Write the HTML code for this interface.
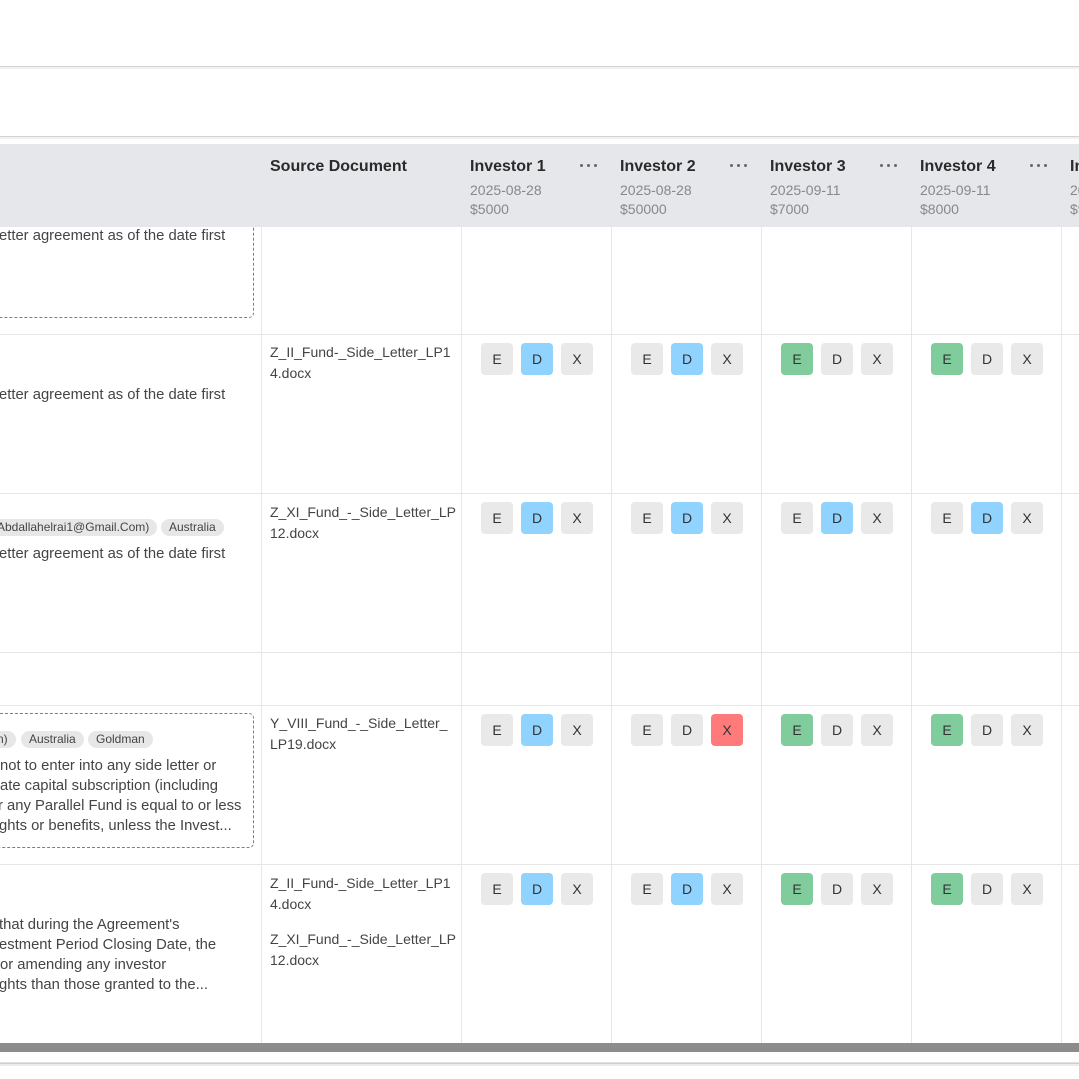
<!DOCTYPE html>
<html><head><meta charset="utf-8">
<style>
html,body{margin:0;padding:0;}
body{width:1079px;height:1079px;overflow:hidden;position:relative;background:#fff;font-family:"Liberation Sans",Arial,sans-serif;color:#444;}
.a{position:absolute;}
.hl{position:absolute;left:0;width:1079px;height:1px;background:#e6e6e6;}
.vl{position:absolute;width:1px;background:#e6e6e6;}
.t{position:absolute;white-space:nowrap;font-size:14.8px;line-height:20px;color:#444;}
.src{position:absolute;white-space:nowrap;font-size:14px;line-height:20.5px;color:#444;left:270px;}
.hd{position:absolute;white-space:nowrap;font-size:16px;font-weight:bold;color:#2a2a2a;line-height:20px;top:157px;z-index:3;}
.sub{position:absolute;white-space:nowrap;font-size:14px;color:#888;line-height:20px;z-index:3;}
.dots{position:absolute;top:164px;width:17px;height:3px;z-index:3;}
.dots i{position:absolute;top:0;width:3px;height:3px;border-radius:50%;background:#666;}
.b{position:absolute;width:32px;height:32px;border-radius:4px;background:#e9e9e9;font-size:14px;line-height:32px;text-align:center;color:#333;}
.bl{background:#8fd3fe;}
.gr{background:#80cc9c;}
.rd{background:#ff7b7b;}
.tag{position:absolute;height:17px;border-radius:9px;background:#e7e7e7;font-size:12px;line-height:17px;color:#444;padding:0 8px;white-space:nowrap;}
.box{position:absolute;border:1px dashed #8e6fa3;border-radius:5px;}
</style></head><body>

<!-- top frame lines -->
<div class="a" style="left:0;top:66px;width:1079px;height:1px;background:#d4d4d4;"></div>
<div class="a" style="left:0;top:67px;width:1079px;height:2px;background:#f1f1f1;"></div>
<div class="a" style="left:0;top:136px;width:1079px;height:1px;background:#d4d4d4;"></div>
<div class="a" style="left:0;top:137px;width:1079px;height:2px;background:#f1f1f1;z-index:3;"></div>
<div class="a" style="left:0;top:139px;width:1079px;height:5px;background:#fff;z-index:2;"></div>

<!-- header -->
<div class="a" style="left:0;top:144px;width:1079px;height:83px;background:#e6e7eb;z-index:2;"></div>
<div class="hd" style="left:270px;">Source Document</div>

<div class="hd" style="left:470px;">Investor 1</div>
<div class="dots" style="left:580px;"><i style="left:0"></i><i style="left:7px"></i><i style="left:14px"></i></div>
<div class="sub" style="left:470px;top:180px;">2025-08-28</div>
<div class="sub" style="left:470px;top:199px;">$5000</div>

<div class="hd" style="left:620px;">Investor 2</div>
<div class="dots" style="left:730px;"><i style="left:0"></i><i style="left:7px"></i><i style="left:14px"></i></div>
<div class="sub" style="left:620px;top:180px;">2025-08-28</div>
<div class="sub" style="left:620px;top:199px;">$50000</div>

<div class="hd" style="left:770px;">Investor 3</div>
<div class="dots" style="left:880px;"><i style="left:0"></i><i style="left:7px"></i><i style="left:14px"></i></div>
<div class="sub" style="left:770px;top:180px;">2025-09-11</div>
<div class="sub" style="left:770px;top:199px;">$7000</div>

<div class="hd" style="left:920px;">Investor 4</div>
<div class="dots" style="left:1030px;"><i style="left:0"></i><i style="left:7px"></i><i style="left:14px"></i></div>
<div class="sub" style="left:920px;top:180px;">2025-09-11</div>
<div class="sub" style="left:920px;top:199px;">$8000</div>

<div class="hd" style="left:1070px;">Investor 5</div>
<div class="sub" style="left:1070px;top:180px;">2025-09-11</div>
<div class="sub" style="left:1070px;top:199px;">$9000</div>

<!-- vertical lines -->
<div class="vl" style="left:261px;top:227px;height:816px;"></div>
<div class="vl" style="left:461px;top:227px;height:816px;"></div>
<div class="vl" style="left:611px;top:227px;height:816px;"></div>
<div class="vl" style="left:761px;top:227px;height:816px;"></div>
<div class="vl" style="left:911px;top:227px;height:816px;"></div>
<div class="vl" style="left:1061px;top:227px;height:816px;"></div>

<!-- horizontal row lines -->
<div class="hl" style="top:334px;"></div>
<div class="hl" style="top:493px;"></div>
<div class="hl" style="top:652px;"></div>
<div class="hl" style="top:705px;"></div>
<div class="hl" style="top:864px;"></div>

<!-- row 1 -->
<div class="box" style="left:-10px;top:170px;width:262px;height:146px;z-index:1;"></div>
<div class="t" style="left:-1px;top:226px;">etter agreement as of the date first</div>

<!-- row 2 -->
<div class="t" style="left:-1px;top:385px;">etter agreement as of the date first</div>
<div class="src" style="top:342px;">Z_II_Fund-_Side_Letter_LP1<br>4.docx</div>

<!-- row 3 -->
<div class="tag" style="left:-11px;top:519px;">Abdallahelrai1@Gmail.Com)</div>
<div class="tag" style="left:161px;top:519px;">Australia</div>
<div class="t" style="left:-1px;top:544px;">etter agreement as of the date first</div>
<div class="src" style="top:502px;">Z_XI_Fund_-_Side_Letter_LP<br>12.docx</div>

<!-- row 5 -->
<div class="box" style="left:-10px;top:713px;width:262px;height:133px;"></div>
<div class="tag" style="left:-11px;top:731px;">n)</div>
<div class="tag" style="left:21px;top:731px;">Australia</div>
<div class="tag" style="left:88px;top:731px;">Goldman</div>
<div class="t" style="left:0;top:756px;">not to enter into any side letter or</div>
<div class="t" style="left:0;top:776px;">ate capital subscription (including</div>
<div class="t" style="left:-2px;top:796px;">r any Parallel Fund is equal to or less</div>
<div class="t" style="left:-1px;top:816px;">ghts or benefits, unless the Invest...</div>
<div class="src" style="top:713px;">Y_VIII_Fund_-_Side_Letter_<br>LP19.docx</div>

<!-- row 6 -->
<div class="t" style="left:-1px;top:915px;">that during the Agreement's</div>
<div class="t" style="left:-1px;top:935px;">estment Period Closing Date, the</div>
<div class="t" style="left:0;top:955px;">or amending any investor</div>
<div class="t" style="left:-1px;top:975px;">ghts than those granted to the...</div>
<div class="src" style="top:873px;">Z_II_Fund-_Side_Letter_LP1<br>4.docx</div>
<div class="src" style="top:929px;">Z_XI_Fund_-_Side_Letter_LP<br>12.docx</div>

<!-- buttons row 2 (top 343) -->
<div class="b" style="left:481px;top:343px;">E</div><div class="b bl" style="left:521px;top:343px;">D</div><div class="b" style="left:561px;top:343px;">X</div>
<div class="b" style="left:631px;top:343px;">E</div><div class="b bl" style="left:671px;top:343px;">D</div><div class="b" style="left:711px;top:343px;">X</div>
<div class="b gr" style="left:781px;top:343px;">E</div><div class="b" style="left:821px;top:343px;">D</div><div class="b" style="left:861px;top:343px;">X</div>
<div class="b gr" style="left:931px;top:343px;">E</div><div class="b" style="left:971px;top:343px;">D</div><div class="b" style="left:1011px;top:343px;">X</div>

<!-- buttons row 3 (top 502) -->
<div class="b" style="left:481px;top:502px;">E</div><div class="b bl" style="left:521px;top:502px;">D</div><div class="b" style="left:561px;top:502px;">X</div>
<div class="b" style="left:631px;top:502px;">E</div><div class="b bl" style="left:671px;top:502px;">D</div><div class="b" style="left:711px;top:502px;">X</div>
<div class="b" style="left:781px;top:502px;">E</div><div class="b bl" style="left:821px;top:502px;">D</div><div class="b" style="left:861px;top:502px;">X</div>
<div class="b" style="left:931px;top:502px;">E</div><div class="b bl" style="left:971px;top:502px;">D</div><div class="b" style="left:1011px;top:502px;">X</div>

<!-- buttons row 5 (top 714) -->
<div class="b" style="left:481px;top:714px;">E</div><div class="b bl" style="left:521px;top:714px;">D</div><div class="b" style="left:561px;top:714px;">X</div>
<div class="b" style="left:631px;top:714px;">E</div><div class="b" style="left:671px;top:714px;">D</div><div class="b rd" style="left:711px;top:714px;">X</div>
<div class="b gr" style="left:781px;top:714px;">E</div><div class="b" style="left:821px;top:714px;">D</div><div class="b" style="left:861px;top:714px;">X</div>
<div class="b gr" style="left:931px;top:714px;">E</div><div class="b" style="left:971px;top:714px;">D</div><div class="b" style="left:1011px;top:714px;">X</div>

<!-- buttons row 6 (top 873) -->
<div class="b" style="left:481px;top:873px;">E</div><div class="b bl" style="left:521px;top:873px;">D</div><div class="b" style="left:561px;top:873px;">X</div>
<div class="b" style="left:631px;top:873px;">E</div><div class="b bl" style="left:671px;top:873px;">D</div><div class="b" style="left:711px;top:873px;">X</div>
<div class="b gr" style="left:781px;top:873px;">E</div><div class="b" style="left:821px;top:873px;">D</div><div class="b" style="left:861px;top:873px;">X</div>
<div class="b gr" style="left:931px;top:873px;">E</div><div class="b" style="left:971px;top:873px;">D</div><div class="b" style="left:1011px;top:873px;">X</div>

<!-- scrollbar & bottom frame -->
<div class="a" style="left:0;top:1043px;width:1079px;height:9px;background:#8c8c8c;"></div>
<div class="a" style="left:0;top:1062px;width:1079px;height:1px;background:#e2e2e2;"></div>
<div class="a" style="left:0;top:1063px;width:1079px;height:1px;background:#cfcfcf;"></div>
<div class="a" style="left:0;top:1064px;width:1079px;height:2px;background:#ededed;"></div>
</body></html>
